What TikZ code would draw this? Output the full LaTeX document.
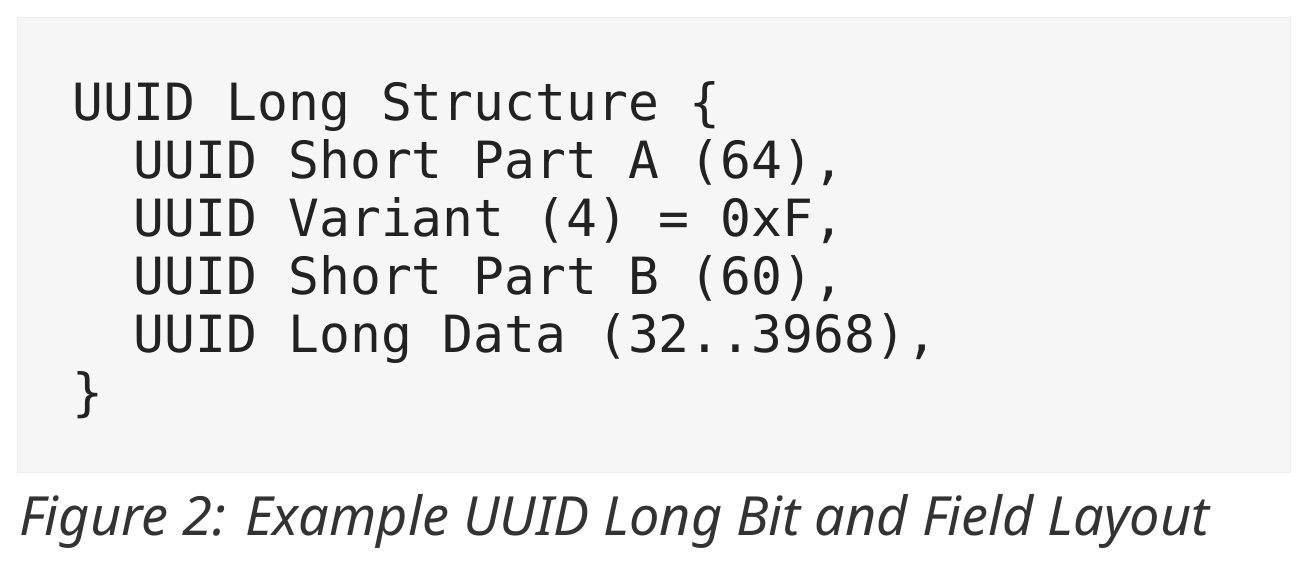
\documentclass[tikz,border=0pt]{standalone}
\usepackage{fontspec}
\setmonofont{DejaVu Sans Mono}
\newfontfamily\capfont{Noto Sans}
\definecolor{boxbg}{HTML}{F6F6F6}
\definecolor{boxln}{HTML}{ECECEC}
\definecolor{codec}{HTML}{222222}
\definecolor{capc}{HTML}{333333}
\begin{document}
\begin{tikzpicture}[x=1pt,y=-1pt,
  code/.style={anchor=base west,inner sep=0,font=\ttfamily\fontsize{51.3}{51.3}\selectfont,text=codec},
  captxt/.style={anchor=base west,inner sep=0,font=\capfont\itshape\fontsize{54}{54}\selectfont,text=capc}]
\useasboundingbox[fill=white] (0,0) rectangle (1300,573);
\draw[boxln,fill=boxbg] (17,17) rectangle (1290,472);
\node[code] (l1) at (72,120) {UUID Long Structure \{};
\node[code] (l2) at (72,178) {\ \ UUID Short Part A (64),};
\node[code] (l3) at (72,236) {\ \ UUID Variant (4) = 0xF,};
\node[code] (l4) at (72,294) {\ \ UUID Short Part B (60),};
\node[code] (l5) at (72,352) {\ \ UUID Long Data (32..3968),};
\node[code] (l6) at (72,410) {\}};
\node[captxt] (c) at (19,535) {Figure 2: Example UUID Long Bit and Field Layout};
\end{tikzpicture}
\end{document}
